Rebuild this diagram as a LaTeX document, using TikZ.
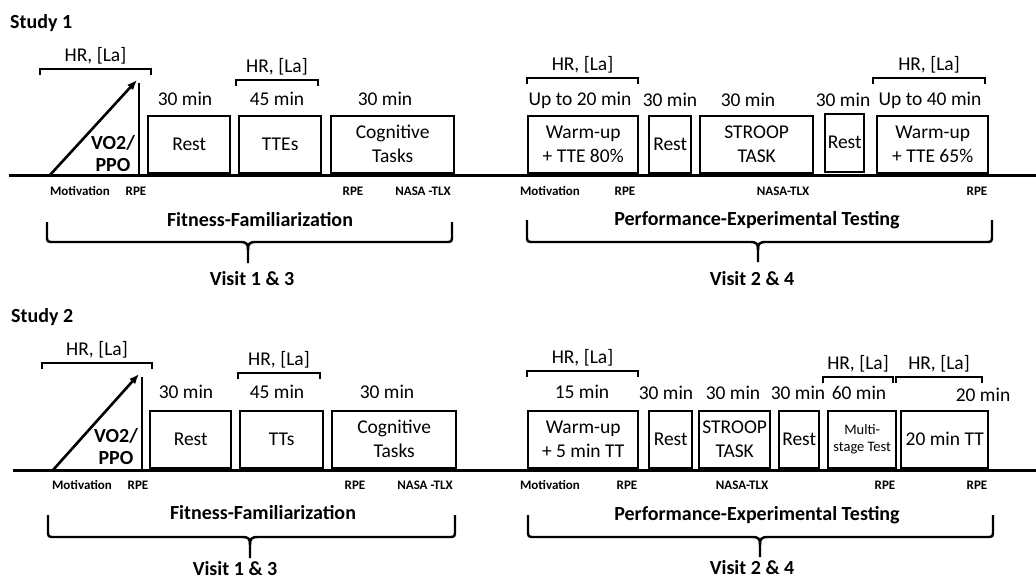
\documentclass[tikz,border=0pt]{standalone}
\usepackage{fontspec}
\setmainfont{Carlito}
\usetikzlibrary{arrows.meta}
\newcommand\fmain{\fontsize{19.5}{24}\selectfont}
\newcommand\fsmallbox{\fontsize{14.5}{17}\selectfont}
\newcommand\fmeas{\bfseries\fontsize{13}{15}\selectfont}
\newcommand\fhead{\bfseries\fontsize{20}{22}\selectfont}
\newcommand\topbracket[4]{%
  \draw[brk] (#2,#4+6) -- (#2,#4) -- (#3,#4) -- (#3,#4+6);
  \node[timelbl] (#1) at ({(#2+#3)/2},#4-13) {HR, [La]};}
\newcommand\visitbrace[6]{%
  \draw[brk] (#1,#4) -- (#1,#5-7) .. controls (#1,#5) .. (#1+7,#5)
    -- (#3-8,#5) .. controls (#3-1,#5) and (#3,#5+2) .. (#3,#5+8) -- (#3,#6);
  \draw[brk] (#3,#5+8) .. controls (#3,#5+2) and (#3+1,#5) .. (#3+8,#5)
    -- (#2-7,#5) .. controls (#2,#5) .. (#2,#5-7) -- (#2,#4);}
\tikzset{
  stagebox/.style={draw, line width=2.4pt, inner sep=0pt, align=center, font=\fmain, anchor=south west},
  timelbl/.style={font=\fmain, inner sep=0pt},
  meas/.style={font=\fmeas, inner sep=0pt},
  head/.style={font=\fhead, inner sep=0pt},
  brk/.style={line width=2.4pt},
  axisline/.style={line width=3pt},
  ramp/.style={line width=2.6pt, -{Latex[length=10pt,width=8pt]}},
}
\begin{document}
\begin{tikzpicture}[x=1pt,y=-1pt]
\useasboundingbox (0,0) rectangle (1036,579);
% ================= Study 1 =================
\node[head, anchor=base west] (s1) at (10,28) {Study 1};
\coordinate (ax1a) at (9,175);
\coordinate (ax1b) at (1036,175);
\draw[axisline] (ax1a) -- (ax1b);
% ramp
\coordinate (r1s) at (50,175);
\coordinate (r1e) at (137,80);
\coordinate (v1t) at (139,83);
\coordinate (v1b) at (139,175);
\draw[ramp] (r1s) -- (r1e);
\draw[brk] (v1t) -- (v1b);
\node[head, align=center, font=\fhead] (vo1) at (113,154) {VO2/\\PPO};
% boxes
\node[stagebox, minimum width=82pt, minimum height=57pt] (rest1) at (147,174) {Rest};
\node[stagebox, minimum width=82pt, minimum height=57pt] (tte1) at (238,174) {TTEs};
\node[stagebox, minimum width=123pt, minimum height=57pt] (cog1) at (330,174) {Cognitive\\Tasks};
\node[stagebox, minimum width=110pt, minimum height=57pt] (wu1) at (527,174) {Warm-up\\+ TTE 80\%};
\node[stagebox, minimum width=42pt, minimum height=57pt] (rest1b) at (648,174) {Rest};
\node[stagebox, minimum width=113pt, minimum height=57pt] (str1) at (699,174) {STROOP\\TASK};
\node[stagebox, minimum width=39pt, minimum height=58pt] (rest1c) at (824,173) {Rest};
\node[stagebox, minimum width=111pt, minimum height=57pt] (wu2) at (876,174) {Warm-up\\+ TTE 65\%};
% time labels
\node[timelbl] (t11) at (185,99) {30 min};
\node[timelbl] (t12) at (277,99) {45 min};
\node[timelbl] (t13) at (385,99) {30 min};
\node[timelbl] (t14) at (580,100) {Up to 20 min};
\node[timelbl] (t15) at (670,100) {30 min};
\node[timelbl] (t16) at (748,100) {30 min};
\node[timelbl] (t17) at (843,100) {30 min};
\node[timelbl] (t18) at (930,100) {Up to 40 min};
% brackets
\topbracket{hr11}{40}{151}{69}
\topbracket{hr12}{236}{318}{80}
\topbracket{hr13}{527}{638}{78}
\topbracket{hr14}{873}{985}{78}
% measures
\node[meas] (m11) at (80,191) {Motivation};
\node[meas] (m12) at (136,191) {RPE};
\node[meas] (m13) at (353,191) {RPE};
\node[meas] (m14) at (423,191) {NASA -TLX};
\node[meas] (m15) at (550,191) {Motivation};
\node[meas] (m16) at (625,191) {RPE};
\node[meas] (m17) at (783,191) {NASA-TLX};
\node[meas] (m18) at (977,191) {RPE};
% phases
\node[head] (ph11) at (260,220) {Fitness-Familiarization};
\node[head] (ph12) at (757,220) {Performance-Experimental Testing};
\visitbrace{47}{452}{248}{222}{242}{263}
\visitbrace{527}{992}{758}{220}{242}{262}
\node[head] (vi11) at (252,279) {Visit 1 \& 3};
\node[head] (vi12) at (752,279) {Visit 2 \& 4};
% ================= Study 2 =================
\node[head, anchor=base west] (s2) at (11,322) {Study 2};
\coordinate (ax2a) at (13,470);
\coordinate (ax2b) at (1036,470);
\draw[axisline] (ax2a) -- (ax2b);
\coordinate (r2s) at (53,470);
\coordinate (r2e) at (139,374);
\coordinate (v2t) at (142,377);
\coordinate (v2b) at (142,470);
\draw[ramp] (r2s) -- (r2e);
\draw[brk] (v2t) -- (v2b);
\node[head, align=center, font=\fhead] (vo2) at (116,447) {VO2/\\PPO};
\node[stagebox, minimum width=81pt, minimum height=57pt] (rest2) at (149,469) {Rest};
\node[stagebox, minimum width=83pt, minimum height=57pt] (tt2) at (239,469) {TTs};
\node[stagebox, minimum width=124pt, minimum height=57pt] (cog2) at (331,469) {Cognitive\\Tasks};
\node[stagebox, minimum width=110pt, minimum height=57pt] (wu3) at (527,469) {Warm-up\\+ 5 min TT};
\node[stagebox, minimum width=43pt, minimum height=57pt] (rest2b) at (648,469) {Rest};
\node[stagebox, minimum width=71pt, minimum height=57pt] (str2) at (698,469) {STROOP\\TASK};
\node[stagebox, minimum width=40pt, minimum height=57pt] (rest2c) at (778,469) {Rest};
\node[stagebox, minimum width=68pt, minimum height=57pt, font=\fsmallbox] (multi) at (827,469) {Multi-\\stage Test};
\node[stagebox, minimum width=87pt, minimum height=57pt] (tt20) at (900,469) {20 min TT};
\node[timelbl] (t21) at (186,392) {30 min};
\node[timelbl] (t22) at (277,392) {45 min};
\node[timelbl] (t23) at (387,392) {30 min};
\node[timelbl] (t24) at (582,392) {15 min};
\node[timelbl] (t25) at (666,393) {30 min};
\node[timelbl] (t26) at (733,393) {30 min};
\node[timelbl] (t27) at (798,393) {30 min};
\node[timelbl] (t28) at (859,393) {60 min};
\node[timelbl] (t29) at (983,395) {20 min};
\topbracket{hr21}{42}{152}{363}
\topbracket{hr22}{238}{320}{373}
\topbracket{hr23}{527}{638}{371}
\topbracket{hr24}{823}{893}{377}
\topbracket{hr25}{896}{982}{377}
\node[meas] (m21) at (82,485) {Motivation};
\node[meas] (m22) at (138,485) {RPE};
\node[meas] (m23) at (355,485) {RPE};
\node[meas] (m24) at (425,485) {NASA -TLX};
\node[meas] (m25) at (550,485) {Motivation};
\node[meas] (m26) at (627,485) {RPE};
\node[meas] (m27) at (742,485) {NASA-TLX};
\node[meas] (m28) at (885,485) {RPE};
\node[meas] (m29) at (977,485) {RPE};
\node[head] (ph21) at (263,513) {Fitness-Familiarization};
\node[head] (ph22) at (757,515) {Performance-Experimental Testing};
\visitbrace{48}{455}{250}{515}{537}{558}
\visitbrace{528}{993}{760}{515}{537}{557}
\node[head] (vi21) at (235,569) {Visit 1 \& 3};
\node[head] (vi22) at (752,568) {Visit 2 \& 4};
\end{tikzpicture}
\end{document}
